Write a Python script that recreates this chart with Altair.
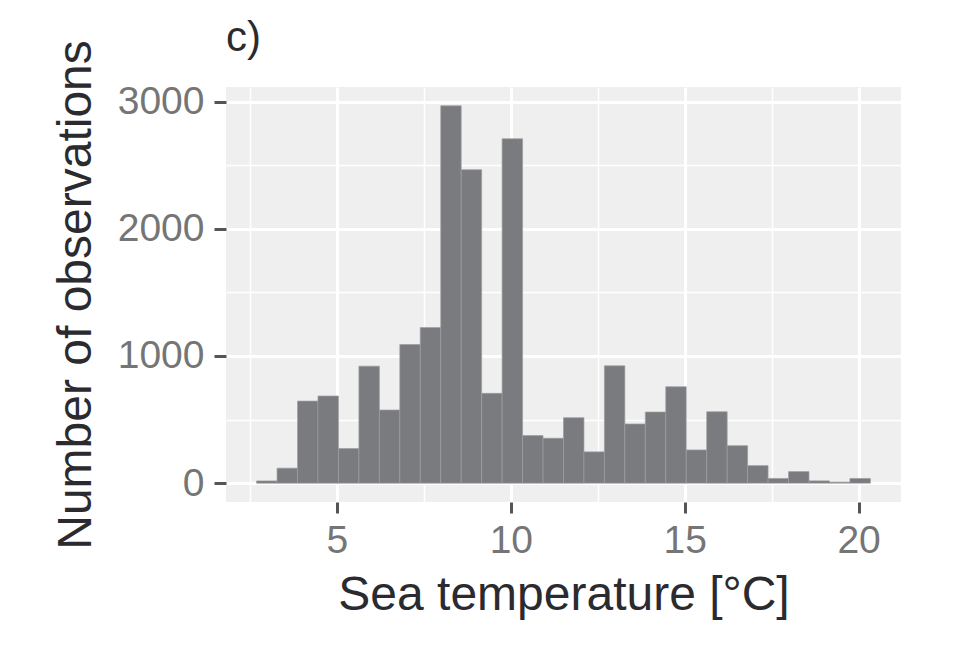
import altair as alt
import pandas as pd

# Histogram bins (left edges, °C) and counts
bin_left = [2.690, 3.278, 3.867, 4.455, 5.043, 5.632, 6.220, 6.808, 7.396, 7.985,
            8.573, 9.161, 9.750, 10.338, 10.926, 11.515, 12.103, 12.691, 13.279, 13.868,
            14.456, 15.044, 15.633, 16.221, 16.809, 17.397, 17.986, 18.574, 19.162, 19.751]
counts = [18, 118, 645, 685, 272, 920, 575, 1090, 1223, 2966,
          2464, 706, 2707, 374, 353, 515, 246, 922, 465, 559,
          758, 261, 562, 295, 138, 37, 91, 18, 8, 37]
bin_width = 0.5883

x_ticks = [2.5, 5, 7.5, 10, 12.5, 15, 17.5, 20]
y_ticks = [0, 500, 1000, 1500, 2000, 2500, 3000]

df = pd.DataFrame({"left": bin_left, "count": counts})
df["right"] = df["left"] + bin_width

FONT = "Liberation Sans"

x_axis = alt.Axis(
    values=x_ticks,
    title="Sea temperature [°C]",
    domain=False,
    grid=True,
    gridColor="white",
    gridWidth={"condition": {"test": "datum.value % 5 == 0", "value": 3}, "value": 1.5},
    tickColor="#555555",
    tickWidth=3,
    tickSize=11,
    tickOpacity={"condition": {"test": "datum.value % 5 == 0", "value": 1}, "value": 0},
    labelExpr="datum.value % 5 == 0 ? datum.label : ''",
    labelFont=FONT,
    labelFontSize=39,
    labelColor="#757575",
    labelPadding=8,
    labelBaseline="top",
    titleFont=FONT,
    titleFontSize=48,
    titleFontWeight="normal",
    titleColor="#2b2b2f",
    titleX=337.5,
    titleY=107,
    titleAlign="center",
    titleBaseline="alphabetic",
)

y_axis = alt.Axis(
    values=y_ticks,
    title="Number of observations",
    domain=False,
    grid=True,
    gridColor="white",
    gridWidth={"condition": {"test": "datum.value % 1000 == 0", "value": 3}, "value": 1.5},
    tickColor="#555555",
    tickWidth=3,
    tickSize=12,
    tickOpacity={"condition": {"test": "datum.value % 1000 == 0", "value": 1}, "value": 0},
    labelExpr="datum.value % 1000 == 0 ? datum.label : ''",
    format="d",
    labelFont=FONT,
    labelFontSize=39,
    labelColor="#757575",
    labelPadding=10,
    titleFont=FONT,
    titleFontSize=48,
    titleFontWeight="normal",
    titleColor="#2b2b2f",
    titleAngle=270,
    titleX=-135.5,
    titleY=207.5,
    titleAlign="center",
    titleBaseline="alphabetic",
)

chart = (
    alt.Chart(df)
    .mark_bar(color="#7a7b7f", stroke="#9d9ea1", strokeWidth=0.7)
    .encode(
        x=alt.X("left:Q", scale=alt.Scale(domain=[1.81, 21.22], nice=False, zero=False), axis=x_axis),
        x2="right:Q",
        y=alt.Y("count:Q", scale=alt.Scale(domain=[-148, 3114], nice=False, zero=False), axis=y_axis),
        y2=alt.datum(0),
    )
    .properties(
        width=675,
        height=415,
        title=alt.TitleParams(
            "c)",
            anchor="start",
            frame="group",
            font=FONT,
            fontSize=42,
            fontWeight="normal",
            color="#2b2b2f",
            baseline="alphabetic",
            offset=-53,
        ),
        autosize=alt.AutoSizeParams(type="none"),
        padding={"left": 218, "top": 79, "right": 40, "bottom": 150},
    )
    .configure_view(fill="#efefef", stroke="transparent", strokeWidth=0)
)

chart.save("out.html", embed_options={"renderer": "svg", "actions": False})
